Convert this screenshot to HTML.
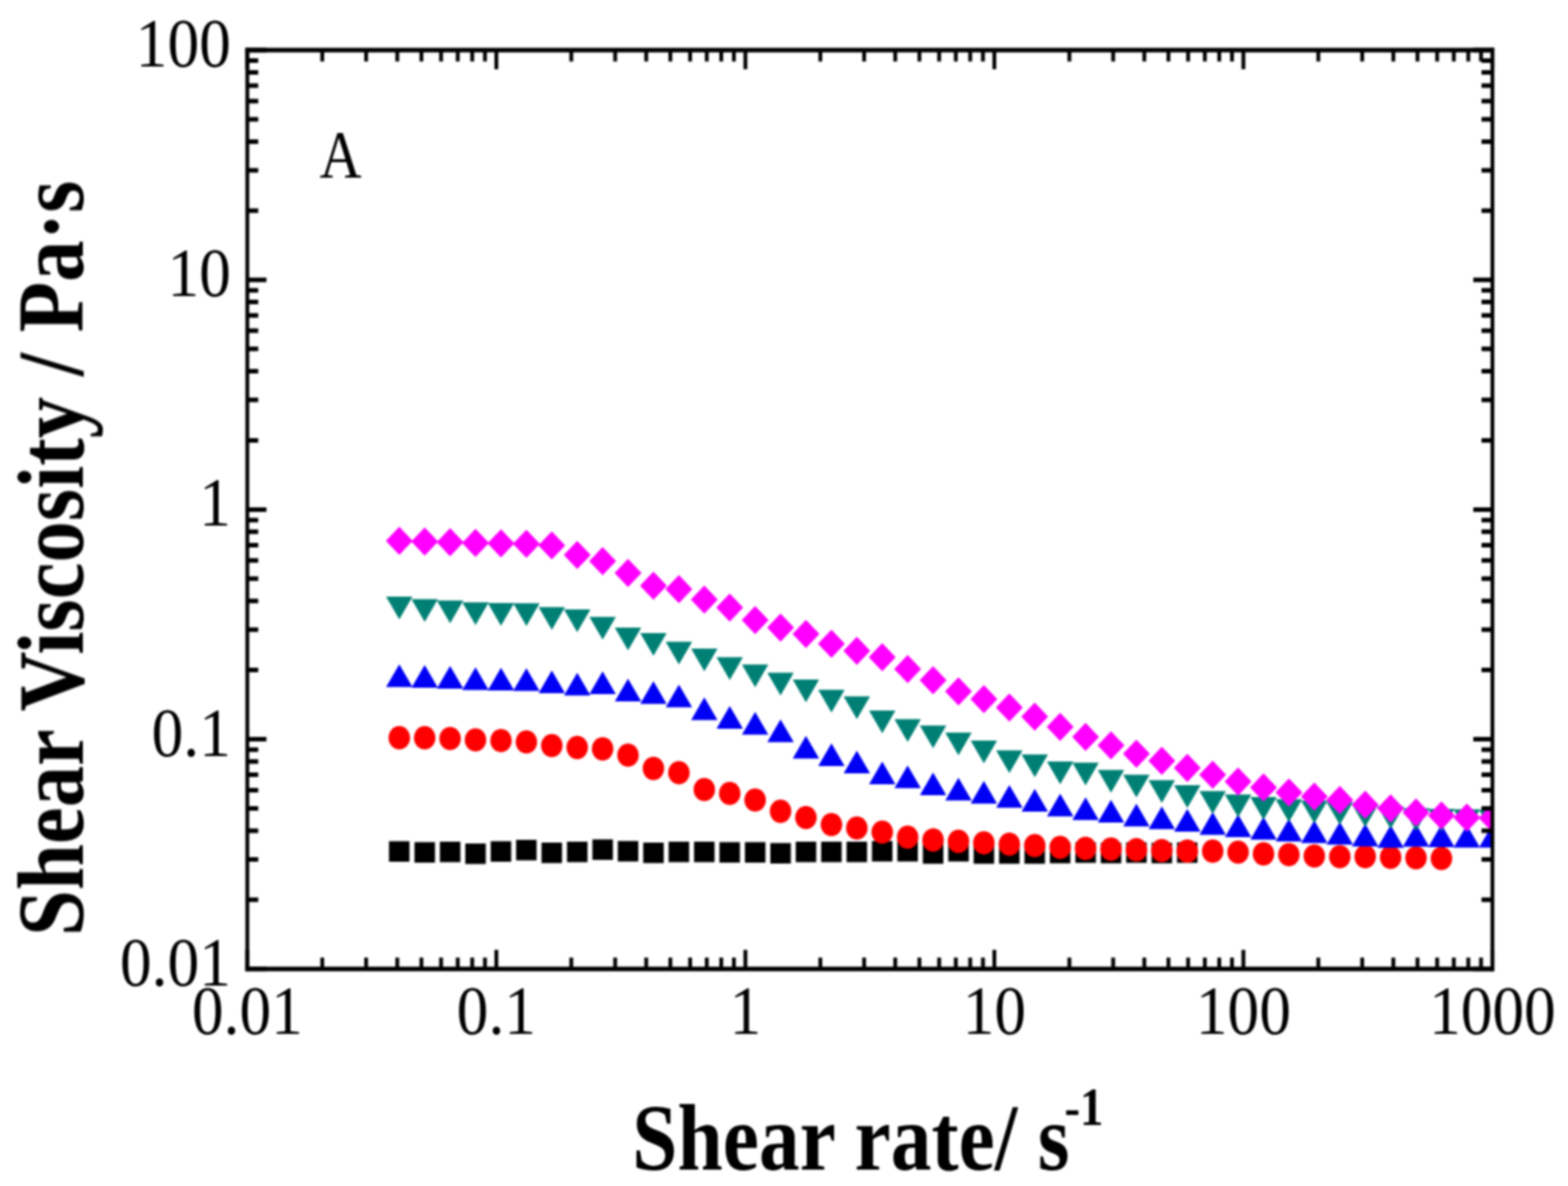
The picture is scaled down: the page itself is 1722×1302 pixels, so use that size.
<!DOCTYPE html>
<html><head><meta charset="utf-8"><title>Shear viscosity</title><style>html,body{margin:0;padding:0;background:#fff;}svg{display:block;}</style></head><body><svg width="1722" height="1302" viewBox="0 0 1722 1302"><defs><filter id="b" filterUnits="userSpaceOnUse" x="0" y="0" width="1722" height="1302" color-interpolation-filters="sRGB"><feGaussianBlur stdDeviation="1.1"/></filter><clipPath id="c"><rect x="271.6" y="55" width="1367.4" height="1008.7"/></clipPath></defs><rect width="1722" height="1302" fill="#fff"/><g filter="url(#b)"><g clip-path="url(#c)"><path fill="#000" d="M427.2 923.5h22.5v22.5h-22.5zM455.2 924.6h22.5v22.5h-22.5zM483.1 923.9h22.5v22.5h-22.5zM511 926.1h22.5v22.5h-22.5zM538.9 923.5h22.5v22.5h-22.5zM566.8 921.9h22.5v22.5h-22.5zM594.7 924.9h22.5v22.5h-22.5zM622.7 923.9h22.5v22.5h-22.5zM650.6 921.4h22.5v22.5h-22.5zM678.5 923.2h22.5v22.5h-22.5zM706.4 925.1h22.5v22.5h-22.5zM734.3 923.9h22.5v22.5h-22.5zM762.2 923.9h22.5v22.5h-22.5zM790.1 924.5h22.5v22.5h-22.5zM818.1 924.6h22.5v22.5h-22.5zM846 925.5h22.5v22.5h-22.5zM873.9 923.9h22.5v22.5h-22.5zM901.8 923.9h22.5v22.5h-22.5zM929.7 923.9h22.5v22.5h-22.5zM957.6 923.2h22.5v22.5h-22.5zM985.5 923.2h22.5v22.5h-22.5zM1013.5 925.8h22.5v22.5h-22.5zM1041.4 923.2h22.5v22.5h-22.5zM1069.3 925.8h22.5v22.5h-22.5zM1097.2 925.8h22.5v22.5h-22.5zM1125.1 925.8h22.5v22.5h-22.5zM1153 925.2h22.5v22.5h-22.5zM1181 924.8h22.5v22.5h-22.5zM1208.9 925.2h22.5v22.5h-22.5zM1236.8 924.8h22.5v22.5h-22.5zM1264.7 925.2h22.5v22.5h-22.5zM1292.6 924.8h22.5v22.5h-22.5z"/><g fill="#f00"><ellipse cx="438.5" cy="809.9" rx="11.8" ry="12.8"/><ellipse cx="466.4" cy="809.9" rx="11.8" ry="12.8"/><ellipse cx="494.3" cy="810.7" rx="11.8" ry="12.8"/><ellipse cx="522.2" cy="812.2" rx="11.8" ry="12.8"/><ellipse cx="550.2" cy="813" rx="11.8" ry="12.8"/><ellipse cx="578.1" cy="814.5" rx="11.8" ry="12.8"/><ellipse cx="606" cy="818.5" rx="11.8" ry="12.8"/><ellipse cx="633.9" cy="820.6" rx="11.8" ry="12.8"/><ellipse cx="661.8" cy="822.1" rx="11.8" ry="12.8"/><ellipse cx="689.7" cy="829" rx="11.8" ry="12.8"/><ellipse cx="717.6" cy="843.6" rx="11.8" ry="12.8"/><ellipse cx="745.6" cy="848.2" rx="11.8" ry="12.8"/><ellipse cx="773.5" cy="866.7" rx="11.8" ry="12.8"/><ellipse cx="801.4" cy="871" rx="11.8" ry="12.8"/><ellipse cx="829.3" cy="878.3" rx="11.8" ry="12.8"/><ellipse cx="857.2" cy="890.6" rx="11.8" ry="12.8"/><ellipse cx="885.1" cy="897.5" rx="11.8" ry="12.8"/><ellipse cx="913.1" cy="905.2" rx="11.8" ry="12.8"/><ellipse cx="941" cy="909" rx="11.8" ry="12.8"/><ellipse cx="968.9" cy="913.5" rx="11.8" ry="12.8"/><ellipse cx="996.8" cy="919" rx="11.8" ry="12.8"/><ellipse cx="1024.7" cy="922.1" rx="11.8" ry="12.8"/><ellipse cx="1052.6" cy="923.6" rx="11.8" ry="12.8"/><ellipse cx="1080.5" cy="925.2" rx="11.8" ry="12.8"/><ellipse cx="1108.5" cy="926.7" rx="11.8" ry="12.8"/><ellipse cx="1136.4" cy="928.2" rx="11.8" ry="12.8"/><ellipse cx="1164.3" cy="930.2" rx="11.8" ry="12.8"/><ellipse cx="1192.2" cy="931.4" rx="11.8" ry="12.8"/><ellipse cx="1220.1" cy="932.1" rx="11.8" ry="12.8"/><ellipse cx="1248" cy="932.9" rx="11.8" ry="12.8"/><ellipse cx="1275.9" cy="933.7" rx="11.8" ry="12.8"/><ellipse cx="1303.9" cy="934.4" rx="11.8" ry="12.8"/><ellipse cx="1331.8" cy="934.4" rx="11.8" ry="12.8"/><ellipse cx="1359.7" cy="935.5" rx="11.8" ry="12.8"/><ellipse cx="1387.6" cy="937.4" rx="11.8" ry="12.8"/><ellipse cx="1415.5" cy="938.2" rx="11.8" ry="12.8"/><ellipse cx="1443.4" cy="939.8" rx="11.8" ry="12.8"/><ellipse cx="1471.4" cy="940.5" rx="11.8" ry="12.8"/><ellipse cx="1499.3" cy="940.4" rx="11.8" ry="12.8"/><ellipse cx="1527.2" cy="941.1" rx="11.8" ry="12.8"/><ellipse cx="1555.1" cy="941.7" rx="11.8" ry="12.8"/><ellipse cx="1583" cy="942.4" rx="11.8" ry="12.8"/></g><path fill="#0000f5" d="M438.5 729.3L453 754.3L424 754.3zM466.4 730L480.9 755L451.9 755zM494.3 731L508.8 756L479.8 756zM522.2 732.5L536.7 757.5L507.7 757.5zM550.2 733L564.7 758L535.7 758zM578.1 733.5L592.6 758.5L563.6 758.5zM606 735.9L620.5 760.9L591.5 760.9zM633.9 738.5L648.4 763.5L619.4 763.5zM661.8 737L676.3 762L647.3 762zM689.7 745.1L704.2 770.1L675.2 770.1zM717.6 747.7L732.1 772.7L703.1 772.7zM745.6 751.6L760.1 776.6L731.1 776.6zM773.5 765.4L788 790.4L759 790.4zM801.4 774.9L815.9 799.9L786.9 799.9zM829.3 781.6L843.8 806.6L814.8 806.6zM857.2 789.7L871.7 814.7L842.7 814.7zM885.1 807.7L899.6 832.7L870.6 832.7zM913.1 815.9L927.6 840.9L898.6 840.9zM941 823.9L955.5 848.9L926.5 848.9zM968.9 836.1L983.4 861.1L954.4 861.1zM996.8 840.3L1011.3 865.3L982.3 865.3zM1024.7 848L1039.2 873L1010.2 873zM1052.6 853.7L1067.1 878.7L1038.1 878.7zM1080.5 857.2L1095 882.2L1066 882.2zM1108.5 861.8L1123 886.8L1094 886.8zM1136.4 866.1L1150.9 891.1L1121.9 891.1zM1164.3 871.2L1178.8 896.2L1149.8 896.2zM1192.2 875.3L1206.7 900.3L1177.7 900.3zM1220.1 878L1234.6 903L1205.6 903zM1248 882.2L1262.5 907.2L1233.5 907.2zM1275.9 885.3L1290.4 910.3L1261.4 910.3zM1303.9 888L1318.4 913L1289.4 913zM1331.8 891.4L1346.3 916.4L1317.3 916.4zM1359.7 894L1374.2 919L1345.2 919zM1387.6 896.8L1402.1 921.8L1373.1 921.8zM1415.5 898.8L1430 923.8L1401 923.8zM1443.4 900.4L1457.9 925.4L1428.9 925.4zM1471.4 902.2L1485.9 927.2L1456.9 927.2zM1499.3 904.2L1513.8 929.2L1484.8 929.2zM1527.2 905.7L1541.7 930.7L1512.7 930.7zM1555.1 904.5L1569.6 929.5L1540.6 929.5zM1583 905L1597.5 930L1568.5 930zM1610.9 905.5L1625.4 930.5L1596.4 930.5zM1638.8 905.5L1653.3 930.5L1624.3 930.5z"/><path fill="#008074" d="M424 655.1L453 655.1L438.5 680.1zM451.9 657.7L480.9 657.7L466.4 682.7zM479.8 659.2L508.8 659.2L494.3 684.2zM507.7 661.2L536.7 661.2L522.2 686.2zM535.7 662L564.7 662L550.2 687zM563.6 662.3L592.6 662.3L578.1 687.3zM591.5 666.5L620.5 666.5L606 691.5zM619.4 668.9L648.4 668.9L633.9 693.9zM647.3 677.3L676.3 677.3L661.8 702.3zM675.2 689.1L704.2 689.1L689.7 714.1zM703.1 695L732.1 695L717.6 720zM731.1 704.5L760.1 704.5L745.6 729.5zM759 711.9L788 711.9L773.5 736.9zM786.9 721.5L815.9 721.5L801.4 746.5zM814.8 729.6L843.8 729.6L829.3 754.6zM842.7 738.4L871.7 738.4L857.2 763.4zM870.6 746.1L899.6 746.1L885.1 771.1zM898.6 757.3L927.6 757.3L913.1 782.3zM926.5 764.5L955.5 764.5L941 789.5zM954.4 779.9L983.4 779.9L968.9 804.9zM982.3 789.6L1011.3 789.6L996.8 814.6zM1010.2 796.5L1039.2 796.5L1024.7 821.5zM1038.1 804.2L1067.1 804.2L1052.6 829.2zM1066 813L1095 813L1080.5 838zM1094 823.7L1123 823.7L1108.5 848.7zM1121.9 828.3L1150.9 828.3L1136.4 853.3zM1149.8 836.1L1178.8 836.1L1164.3 861.1zM1177.7 837.3L1206.7 837.3L1192.2 862.3zM1205.6 845.3L1234.6 845.3L1220.1 870.3zM1233.5 850.4L1262.5 850.4L1248 875.4zM1261.4 856.5L1290.4 856.5L1275.9 881.5zM1289.4 861.9L1318.4 861.9L1303.9 886.9zM1317.3 868.4L1346.3 868.4L1331.8 893.4zM1345.2 872.3L1374.2 872.3L1359.7 897.3zM1373.1 875L1402.1 875L1387.6 900zM1401 877.4L1430 877.4L1415.5 902.4zM1428.9 878.9L1457.9 878.9L1443.4 903.9zM1456.9 880.4L1485.9 880.4L1471.4 905.4zM1484.8 883L1513.8 883L1499.3 908zM1512.7 885.1L1541.7 885.1L1527.2 910.1zM1540.6 887.2L1569.6 887.2L1555.1 912.2zM1568.5 887.9L1597.5 887.9L1583 912.9zM1596.4 888.6L1625.4 888.6L1610.9 913.6zM1624.3 889L1653.3 889L1638.8 914z"/><path fill="#f0f" d="M438.5 578.3L453.2 593.8L438.5 609.3L423.8 593.8zM466.4 579.1L481.2 594.6L466.4 610.1L451.7 594.6zM494.3 579.8L509.1 595.3L494.3 610.8L479.6 595.3zM522.2 580.6L537 596.1L522.2 611.6L507.5 596.1zM550.2 580.9L564.9 596.4L550.2 611.9L535.4 596.4zM578.1 581.4L592.8 596.9L578.1 612.4L563.3 596.9zM606 583.3L620.7 598.8L606 614.3L591.2 598.8zM633.9 593.7L648.7 609.2L633.9 624.7L619.2 609.2zM661.8 600.6L676.6 616.1L661.8 631.6L647.1 616.1zM689.7 613.6L704.5 629.1L689.7 644.6L675 629.1zM717.6 627.5L732.4 643L717.6 658.5L702.9 643zM745.6 631.3L760.3 646.8L745.6 662.3L730.8 646.8zM773.5 642.8L788.2 658.3L773.5 673.8L758.7 658.3zM801.4 651.4L816.1 666.9L801.4 682.4L786.6 666.9zM829.3 665.2L844.1 680.7L829.3 696.2L814.6 680.7zM857.2 673.6L872 689.1L857.2 704.6L842.5 689.1zM885.1 680.5L899.9 696L885.1 711.5L870.4 696zM913.1 691.3L927.8 706.8L913.1 722.3L898.3 706.8zM941 699L955.7 714.5L941 730L926.2 714.5zM968.9 705.9L983.6 721.4L968.9 736.9L954.1 721.4zM996.8 719L1011.5 734.5L996.8 750L982 734.5zM1024.7 731.3L1039.5 746.8L1024.7 762.3L1010 746.8zM1052.6 743.6L1067.4 759.1L1052.6 774.6L1037.9 759.1zM1080.5 752.1L1095.3 767.6L1080.5 783.1L1065.8 767.6zM1108.5 761.3L1123.2 776.8L1108.5 792.3L1093.7 776.8zM1136.4 771.3L1151.1 786.8L1136.4 802.3L1121.6 786.8zM1164.3 782.5L1179 798L1164.3 813.5L1149.5 798zM1192.2 793.6L1207 809.1L1192.2 824.6L1177.5 809.1zM1220.1 802.8L1234.9 818.3L1220.1 833.8L1205.4 818.3zM1248 812.1L1262.8 827.6L1248 843.1L1233.3 827.6zM1275.9 819.7L1290.7 835.2L1275.9 850.7L1261.2 835.2zM1303.9 827.4L1318.6 842.9L1303.9 858.4L1289.1 842.9zM1331.8 835.1L1346.5 850.6L1331.8 866.1L1317 850.6zM1359.7 842.5L1374.4 858L1359.7 873.5L1344.9 858zM1387.6 849L1402.4 864.5L1387.6 880L1372.9 864.5zM1415.5 854.4L1430.3 869.9L1415.5 885.4L1400.8 869.9zM1443.4 859L1458.2 874.5L1443.4 890L1428.7 874.5zM1471.4 862.8L1486.1 878.3L1471.4 893.8L1456.6 878.3zM1499.3 868.1L1514 883.6L1499.3 899.1L1484.5 883.6zM1527.2 872.1L1541.9 887.6L1527.2 903.1L1512.4 887.6zM1555.1 876.4L1569.8 891.9L1555.1 907.4L1540.3 891.9zM1583 879.8L1597.8 895.3L1583 910.8L1568.3 895.3zM1610.9 881.9L1625.7 897.4L1610.9 912.9L1596.2 897.4zM1638.8 882.5L1653.6 898L1638.8 913.5L1624.1 898z"/></g><path fill="none" stroke="#000" stroke-width="4.2" d="M271.6 1063.7v-21M271.6 55v21M353.9 1063.7v-12.5M353.9 55v12.5M402.1 1063.7v-12.5M402.1 55v12.5M436.3 1063.7v-12.5M436.3 55v12.5M462.8 1063.7v-12.5M462.8 55v12.5M484.4 1063.7v-12.5M484.4 55v12.5M502.7 1063.7v-12.5M502.7 55v12.5M518.6 1063.7v-12.5M518.6 55v12.5M532.6 1063.7v-12.5M532.6 55v12.5M545.1 1063.7v-21M545.1 55v21M627.4 1063.7v-12.5M627.4 55v12.5M675.6 1063.7v-12.5M675.6 55v12.5M709.7 1063.7v-12.5M709.7 55v12.5M736.2 1063.7v-12.5M736.2 55v12.5M757.9 1063.7v-12.5M757.9 55v12.5M776.2 1063.7v-12.5M776.2 55v12.5M792.1 1063.7v-12.5M792.1 55v12.5M806 1063.7v-12.5M806 55v12.5M818.6 1063.7v-21M818.6 55v21M900.9 1063.7v-12.5M900.9 55v12.5M949 1063.7v-12.5M949 55v12.5M983.2 1063.7v-12.5M983.2 55v12.5M1009.7 1063.7v-12.5M1009.7 55v12.5M1031.4 1063.7v-12.5M1031.4 55v12.5M1049.7 1063.7v-12.5M1049.7 55v12.5M1065.5 1063.7v-12.5M1065.5 55v12.5M1079.5 1063.7v-12.5M1079.5 55v12.5M1092 1063.7v-21M1092 55v21M1174.4 1063.7v-12.5M1174.4 55v12.5M1222.5 1063.7v-12.5M1222.5 55v12.5M1256.7 1063.7v-12.5M1256.7 55v12.5M1283.2 1063.7v-12.5M1283.2 55v12.5M1304.8 1063.7v-12.5M1304.8 55v12.5M1323.2 1063.7v-12.5M1323.2 55v12.5M1339 1063.7v-12.5M1339 55v12.5M1353 1063.7v-12.5M1353 55v12.5M1365.5 1063.7v-21M1365.5 55v21M1447.8 1063.7v-12.5M1447.8 55v12.5M1496 1063.7v-12.5M1496 55v12.5M1530.2 1063.7v-12.5M1530.2 55v12.5M1556.7 1063.7v-12.5M1556.7 55v12.5M1578.3 1063.7v-12.5M1578.3 55v12.5M1596.6 1063.7v-12.5M1596.6 55v12.5M1612.5 1063.7v-12.5M1612.5 55v12.5M1626.5 1063.7v-12.5M1626.5 55v12.5M1639 1063.7v-21M1639 55v21"/><path fill="none" stroke="#000" stroke-width="5" d="M271.6 1063.7h21M1639 1063.7h-21M271.6 987.8h12M1639 987.8h-12M271.6 943.4h12M1639 943.4h-12M271.6 911.9h12M1639 911.9h-12M271.6 887.4h12M1639 887.4h-12M271.6 867.5h12M1639 867.5h-12M271.6 850.6h12M1639 850.6h-12M271.6 836h12M1639 836h-12M271.6 823.1h12M1639 823.1h-12M271.6 811.5h21M1639 811.5h-21M271.6 735.6h12M1639 735.6h-12M271.6 691.2h12M1639 691.2h-12M271.6 659.7h12M1639 659.7h-12M271.6 635.3h12M1639 635.3h-12M271.6 615.3h12M1639 615.3h-12M271.6 598.4h12M1639 598.4h-12M271.6 583.8h12M1639 583.8h-12M271.6 570.9h12M1639 570.9h-12M271.6 559.4h21M1639 559.4h-21M271.6 483.4h12M1639 483.4h-12M271.6 439h12M1639 439h-12M271.6 407.5h12M1639 407.5h-12M271.6 383.1h12M1639 383.1h-12M271.6 363.1h12M1639 363.1h-12M271.6 346.2h12M1639 346.2h-12M271.6 331.6h12M1639 331.6h-12M271.6 318.7h12M1639 318.7h-12M271.6 307.2h21M1639 307.2h-21M271.6 231.3h12M1639 231.3h-12M271.6 186.9h12M1639 186.9h-12M271.6 155.4h12M1639 155.4h-12M271.6 130.9h12M1639 130.9h-12M271.6 110.9h12M1639 110.9h-12M271.6 94.1h12M1639 94.1h-12M271.6 79.4h12M1639 79.4h-12M271.6 66.5h12M1639 66.5h-12M271.6 55h21M1639 55h-21"/><path fill="none" stroke="#000" stroke-width="4.2" d="M271.6 52.5V1066.2M1639 52.5V1066.2"/><path fill="none" stroke="#000" stroke-width="5" d="M269.5 55H1641.1M269.5 1063.7H1641.1"/><text x="0" y="0" font-family="'Liberation Serif', 'Times New Roman', serif" font-size="77" text-anchor="end" transform="translate(253.5 73) scale(0.904 1)">100</text><text x="0" y="0" font-family="'Liberation Serif', 'Times New Roman', serif" font-size="77" text-anchor="end" transform="translate(253.5 325.2) scale(0.904 1)">10</text><text x="0" y="0" font-family="'Liberation Serif', 'Times New Roman', serif" font-size="77" text-anchor="end" transform="translate(253.5 577.4) scale(0.904 1)">1</text><text x="0" y="0" font-family="'Liberation Serif', 'Times New Roman', serif" font-size="77" text-anchor="end" transform="translate(253.5 829.5) scale(0.904 1)">0.1</text><text x="0" y="0" font-family="'Liberation Serif', 'Times New Roman', serif" font-size="77" text-anchor="end" transform="translate(253.5 1081.7) scale(0.904 1)">0.01</text><text x="0" y="0" font-family="'Liberation Serif', 'Times New Roman', serif" font-size="77" text-anchor="middle" transform="translate(271.6 1135) scale(0.904 1)">0.01</text><text x="0" y="0" font-family="'Liberation Serif', 'Times New Roman', serif" font-size="77" text-anchor="middle" transform="translate(545.1 1135) scale(0.904 1)">0.1</text><text x="0" y="0" font-family="'Liberation Serif', 'Times New Roman', serif" font-size="77" text-anchor="middle" transform="translate(818.6 1135) scale(0.904 1)">1</text><text x="0" y="0" font-family="'Liberation Serif', 'Times New Roman', serif" font-size="77" text-anchor="middle" transform="translate(1092 1135) scale(0.904 1)">10</text><text x="0" y="0" font-family="'Liberation Serif', 'Times New Roman', serif" font-size="77" text-anchor="middle" transform="translate(1365.5 1135) scale(0.904 1)">100</text><text x="0" y="0" font-family="'Liberation Serif', 'Times New Roman', serif" font-size="77" text-anchor="middle" transform="translate(1639 1135) scale(0.904 1)">1000</text><text x="0" y="0" font-family="'Liberation Serif', 'Times New Roman', serif" font-size="73.5" text-anchor="start" transform="translate(351 195) scale(0.868 1)">A</text><text x="0" y="0" font-family="'Liberation Serif', 'Times New Roman', serif" font-weight="bold" font-size="104" text-anchor="middle" transform="translate(91 613) rotate(-90) scale(0.8745 1)">Shear Viscosity / Pa&#183;s</text><text x="0" y="0" font-family="'Liberation Serif', 'Times New Roman', serif" font-weight="bold" font-size="104" transform="translate(694.3 1283.6) scale(0.86 1)">Shear rate/ s<tspan font-size="60" dx="-6.5" dy="-48.5">-1</tspan></text></g></svg></body></html>
